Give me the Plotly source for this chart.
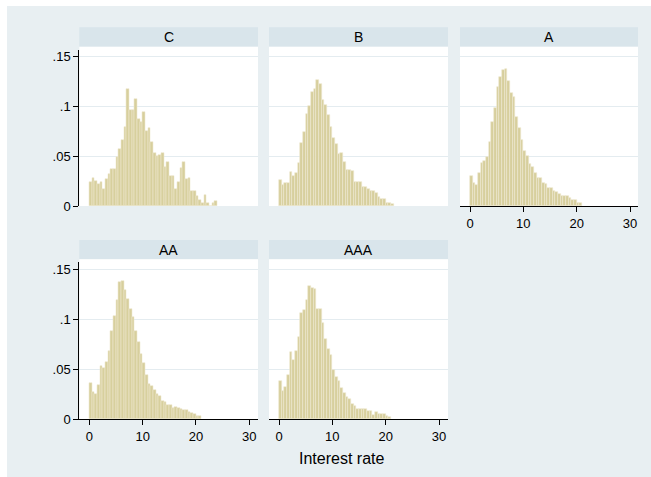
import numpy as np
import plotly.graph_objects as go

# Histogram densities of interest rates by rating class (bin width 0.5, starting at 0)
BIN_START = 0.0
BIN_WIDTH = 0.5

dens_C = [0.024, 0.028, 0.025, 0.022, 0.024, 0.017, 0.027, 0.032, 0.037, 0.037,
          0.049, 0.057, 0.066, 0.079, 0.117, 0.096, 0.096, 0.107, 0.087, 0.084,
          0.094, 0.075, 0.078, 0.064, 0.053, 0.050, 0.051, 0.053, 0.039, 0.044,
          0.030, 0.030, 0.017, 0.024, 0.038, 0.044, 0.027, 0.028, 0.015, 0.015,
          0.010, 0.006, 0.003, 0.011, 0.003, 0.0, 0.003, 0.005]
dens_B = [0.026, 0.021, 0.023, 0.023, 0.034, 0.030, 0.033, 0.043, 0.063, 0.074,
          0.092, 0.100, 0.114, 0.117, 0.126, 0.122, 0.106, 0.101, 0.091, 0.079,
          0.068, 0.062, 0.052, 0.053, 0.044, 0.036, 0.036, 0.035, 0.024, 0.024,
          0.024, 0.019, 0.019, 0.017, 0.015, 0.015, 0.013, 0.009, 0.007, 0.007,
          0.003, 0.003, 0.002]
dens_A = [0.030, 0.023, 0.021, 0.033, 0.043, 0.045, 0.049, 0.064, 0.084, 0.098,
          0.119, 0.129, 0.136, 0.137, 0.125, 0.113, 0.109, 0.089, 0.078, 0.066,
          0.055, 0.050, 0.042, 0.039, 0.033, 0.028, 0.028, 0.023, 0.022, 0.018,
          0.018, 0.015, 0.014, 0.012, 0.010, 0.010, 0.010, 0.008, 0.006, 0.006,
          0.003, 0.003]
dens_AA = [0.036, 0.027, 0.025, 0.034, 0.053, 0.051, 0.057, 0.068, 0.088, 0.103,
           0.119, 0.137, 0.138, 0.129, 0.120, 0.110, 0.102, 0.088, 0.077, 0.065,
           0.056, 0.044, 0.035, 0.033, 0.029, 0.025, 0.023, 0.018, 0.017, 0.014,
           0.014, 0.011, 0.012, 0.011, 0.010, 0.009, 0.009, 0.007, 0.006, 0.005,
           0.003, 0.003]
dens_AAA = [0.038, 0.028, 0.032, 0.044, 0.067, 0.059, 0.068, 0.082, 0.106, 0.109,
            0.119, 0.133, 0.131, 0.130, 0.110, 0.110, 0.096, 0.080, 0.070, 0.064,
            0.049, 0.042, 0.038, 0.031, 0.026, 0.022, 0.020, 0.015, 0.013, 0.010,
            0.010, 0.010, 0.010, 0.008, 0.008, 0.004, 0.007, 0.005, 0.005, 0.005,
            0.003, 0.002]

panel_names = ["C", "B", "A", "AA", "AAA"]
panel_data = [dens_C, dens_B, dens_A, dens_AA, dens_AAA]

y_ticks = [0, 0.05, 0.1, 0.15]
y_tick_text = ["0", ".05", ".1", ".15"]
x_ticks = [0, 10, 20, 30]
x_title = "Interest rate"

W, H = 651, 477
BG = "rgb(232,239,242)"
STRIP = "rgb(217,229,235)"
GRID = "rgb(228,236,240)"
BAR_FILL = "rgb(215,207,157)"
BAR_EDGE = "rgb(238,234,210)"
FONT = "Liberation Sans, Arial, sans-serif"


def px(x):
    return x / W


def py(y):
    return 1 - y / H


# panel boxes in pixels: (left, right, strip_top, strip_bottom, axis_top, baseline)
cols = [(79.3, 258.0), (269.0, 448.0), (460.0, 638.0)]
rows = [(27.3, 46.7, 50.0, 206.0), (240.0, 259.3, 262.0, 419.3)]
layout_pos = [(0, 0), (0, 1), (0, 2), (1, 0), (1, 1)]
PX_PER_UNIT_X = 160.0 / 30.0
PX_PER_UNIT_Y = 1000.0

fig = go.Figure()
shapes = []
annotations = []

# graph region background
shapes.append(dict(type="rect", xref="paper", yref="paper", x0=px(7), x1=1.0,
                   y0=0.0, y1=py(6), fillcolor=BG, line=dict(width=0), layer="below"))

for k, (name, dens) in enumerate(zip(panel_names, panel_data)):
    r, c = layout_pos[k]
    left, right = cols[c]
    s_top, s_bot, a_top, base = rows[r]
    idx = k + 1
    xa = "x" if idx == 1 else f"x{idx}"
    ya = "y" if idx == 1 else f"y{idx}"

    centers = BIN_START + BIN_WIDTH * (np.arange(len(dens)) + 0.5)
    fig.add_trace(go.Bar(
        x=centers, y=dens, width=BIN_WIDTH, xaxis=xa, yaxis=ya,
        marker=dict(color=BAR_FILL, line=dict(color=BAR_EDGE, width=0.6)),
        showlegend=False, hoverinfo="x+y"))

    # strip header and white plot region
    shapes.append(dict(type="rect", xref="paper", yref="paper",
                       x0=px(left), x1=px(right), y0=py(s_bot), y1=py(s_top),
                       fillcolor=STRIP, line=dict(width=0), layer="below"))
    shapes.append(dict(type="rect", xref="paper", yref="paper",
                       x0=px(left), x1=px(right), y0=py(base), y1=py(s_bot),
                       fillcolor="white", line=dict(width=0), layer="below"))
    annotations.append(dict(text=name, xref="paper", yref="paper",
                            x=px((left + right) / 2), y=py((s_top + s_bot) / 2),
                            showarrow=False, xanchor="center", yanchor="middle",
                            font=dict(family=FONT, size=14, color="black")))

    x_lo = -10.0 / PX_PER_UNIT_X
    x_hi = x_lo + (right - left) / PX_PER_UNIT_X
    y_hi = (base - a_top) / PX_PER_UNIT_Y

    show_x = (r == 1) or (c == 2)
    show_y = (c == 0)

    xaxis = dict(domain=[px(left), px(right)], range=[x_lo, x_hi],
                 anchor=ya, showgrid=False, zeroline=False, fixedrange=True)
    if show_x:
        xaxis.update(showline=True, linecolor="black", linewidth=1,
                     ticks="outside", ticklen=5, tickcolor="black", tickwidth=1,
                     tickvals=x_ticks, ticktext=[str(v) for v in x_ticks],
                     tickfont=dict(family=FONT, size=13, color="black"))
    else:
        xaxis.update(showline=False, showticklabels=False, ticks="")

    yaxis = dict(domain=[py(base), py(a_top)], range=[0, y_hi], anchor=xa,
                 zeroline=False, showgrid=True, gridcolor=GRID, gridwidth=1,
                 tickvals=y_ticks, fixedrange=True)
    if show_y:
        yaxis.update(showline=True, linecolor="black", linewidth=1,
                     ticks="outside", ticklen=5, tickcolor="black", tickwidth=1,
                     ticktext=y_tick_text,
                     tickfont=dict(family=FONT, size=13, color="black"))
    else:
        yaxis.update(showline=False, showticklabels=False, ticks="")

    fig.update_layout({("xaxis" if idx == 1 else f"xaxis{idx}"): xaxis,
                       ("yaxis" if idx == 1 else f"yaxis{idx}"): yaxis})

annotations.append(dict(text=x_title, xref="paper", yref="paper",
                        x=px(341), y=py(458), showarrow=False,
                        xanchor="center", yanchor="middle",
                        font=dict(family=FONT, size=16, color="black")))

fig.update_layout(width=W, height=H, margin=dict(l=0, r=0, t=0, b=0, autoexpand=False),
                  paper_bgcolor="white", plot_bgcolor="rgba(0,0,0,0)",
                  bargap=0, shapes=shapes, annotations=annotations,
                  font=dict(family=FONT))

fig.write_html("out.html")
